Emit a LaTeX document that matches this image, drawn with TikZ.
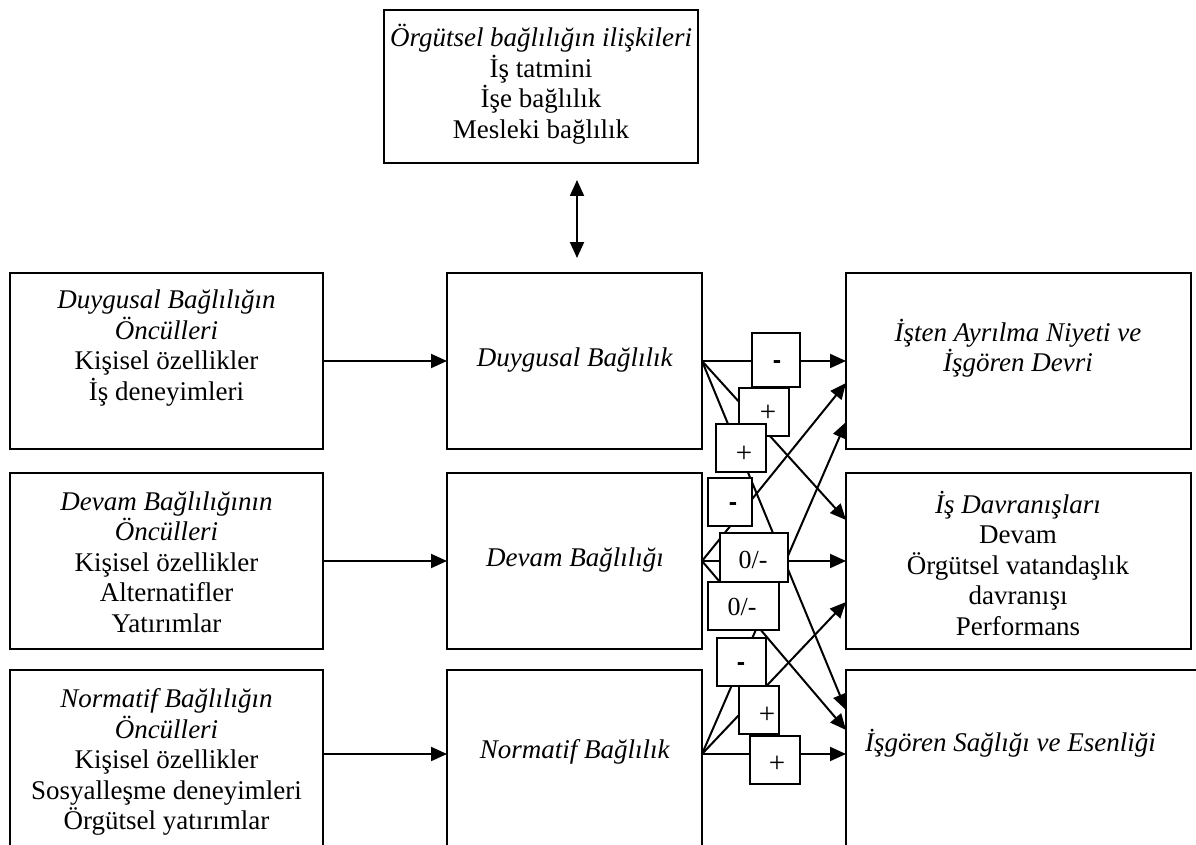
\documentclass[tikz,border=0pt]{standalone}
\usepackage{fontspec}
\setmainfont{Liberation Serif}
\newfontfamily\arialf{Liberation Sans}
\usetikzlibrary{arrows.meta}
\begin{document}
\begin{tikzpicture}[x=1pt,y=-1pt,
  box/.style={draw,line width=2pt,rectangle,inner sep=0pt,outer sep=0pt},
  txt/.style={font=\fontsize{27}{30.5}\selectfont,align=center,inner sep=0pt},
  lab/.style={draw,fill=white,line width=1.9pt,rectangle,inner sep=0pt,outer sep=0pt},
  labt/.style={font=\fontsize{26}{28}\selectfont,inner sep=0pt},
  plust/.style={font=\fontsize{29}{30}\selectfont,inner sep=0pt},
  dasht/.style={font=\arialf\bfseries\fontsize{25}{28}\selectfont,inner sep=0pt},
  arr/.style={line width=2pt,-{Triangle[length=16pt,width=14pt]}},
  darr/.style={line width=2pt,{Triangle[length=16pt,width=14pt]}-{Triangle[length=16pt,width=14pt]}}]
\useasboundingbox (0,0) rectangle (1196,845);
\clip (0,0) rectangle (1196,845);

% top box
\node[box,minimum width=314pt,minimum height=153pt] (top) at (541,86.5) {};
\node[txt] (topt) at (541,84) {\textit{Örgütsel bağlılığın ilişkileri}\\İş tatmini\\İşe bağlılık\\Mesleki bağlılık};
\coordinate (da) at (577,180);
\coordinate (db) at (577,258);
\draw[darr] (da) -- (db);

% left boxes
\node[box,minimum width=313pt,minimum height=176pt] (L1) at (166.5,361) {};
\node[txt] (L1t) at (166.5,348) {\textit{Duygusal Bağlılığın}\\\textit{Öncülleri}\\Kişisel özellikler\\İş deneyimleri};
\node[box,minimum width=313pt,minimum height=176pt] (L2) at (166.5,561) {};
\node[txt] (L2t) at (166.5,562) {\textit{Devam Bağlılığının}\\\textit{Öncülleri}\\Kişisel özellikler\\Alternatifler\\Yatırımlar};
\node[box,minimum width=313pt,minimum height=176pt] (L3) at (166.5,758) {};
\node[txt] (L3t) at (166.5,762) {\textit{Normatif Bağlılığın}\\\textit{Öncülleri}\\Kişisel özellikler\\Sosyalleşme deneyimleri\\Örgütsel yatırımlar};

% middle boxes
\node[box,minimum width=255pt,minimum height=176pt] (M1) at (574.5,361) {};
\node[txt] (M1t) at (575,360) {\textit{Duygusal Bağlılık}};
\node[box,minimum width=255pt,minimum height=176pt] (M2) at (574.5,561) {};
\node[txt] (M2t) at (575,560) {\textit{Devam Bağlılığı}};
\node[box,minimum width=255pt,minimum height=176pt] (M3) at (574.5,758) {};
\node[txt] (M3t) at (575,752) {\textit{Normatif Bağlılık}};

% right boxes
\node[box,minimum width=345pt,minimum height=176pt] (R1) at (1018.5,361) {};
\node[txt] (R1t) at (1018,348) {\textit{İşten Ayrılma Niyeti ve}\\\textit{İşgören Devri}};
\node[box,minimum width=345pt,minimum height=176pt] (R2) at (1018.5,561) {};
\node[txt] (R2t) at (1018,563) {\textit{İş Davranışları}\\Devam\\Örgütsel vatandaşlık\\davranışı\\Performans};
\node[box,minimum width=400pt,minimum height=176pt] (R3) at (1046,758) {};
\node[txt,anchor=west] (R3t) at (865,743) {\textit{İşgören Sağlığı ve Esenliği}};

% antecedents -> commitment
\draw[arr] (L1.east) -- (M1.west);
\draw[arr] (L2.east) -- (M2.west);
\draw[arr] ([yshift=4pt]L3.east) -- ([yshift=4pt]M3.west);

% commitment -> outcomes
\draw[arr] (M1.east) -- (R1.west);
\draw[arr] (M1.east) -- ([yshift=41pt]R2.west);
\draw[arr] (M1.east) -- ([yshift=48pt]R3.west);
\draw[arr] (M2.east) -- ([yshift=-22pt]R1.west);
\draw[arr] (M2.east) -- (R2.west);
\draw[arr] (M2.east) -- ([yshift=28pt]R3.west);
\draw[arr] ([yshift=4pt]M3.east) -- ([yshift=-61pt]R1.west);
\draw[arr] ([yshift=4pt]M3.east) -- ([yshift=-41pt]R2.west);
\draw[arr] ([yshift=4pt]M3.east) -- ([yshift=4pt]R3.west);

% labels
\node[lab,minimum width=50pt,minimum height=48pt] (p1) at (764,412) {};
\node[plust] (p1t) at (768,413) {+};
\node[lab,minimum width=50pt,minimum height=48pt] (p2) at (741,448) {};
\node[plust] (p2t) at (744,454) {+};
\node[lab,minimum width=48pt,minimum height=54pt] (m1) at (776,360) {};
\node[dasht] (m1t) at (777,365) {-};
\node[lab,minimum width=44pt,minimum height=48pt] (m2) at (730,502) {};
\node[dasht] (m2t) at (733,507) {-};
\node[lab,minimum width=68pt,minimum height=49pt] (z1) at (754,557.5) {};
\node[labt] (z1t) at (753,560) {0/-};
\node[lab,minimum width=71pt,minimum height=48pt] (z2) at (743.5,606) {};
\node[labt] (z2t) at (742,607) {0/-};
\node[lab,minimum width=49pt,minimum height=48pt] (m3) at (741.5,662) {};
\node[dasht] (m3t) at (741,667) {-};
\node[lab,minimum width=40pt,minimum height=48pt] (p3) at (759,710) {};
\node[plust] (p3t) at (767,715) {+};
\node[lab,minimum width=50pt,minimum height=48pt] (p4) at (775,760) {};
\node[plust] (p4t) at (777,764) {+};
\end{tikzpicture}
\end{document}
